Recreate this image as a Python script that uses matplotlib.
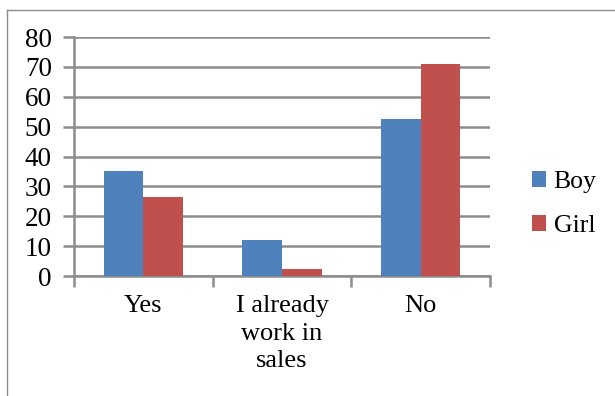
import matplotlib.pyplot as plt
import numpy as np

categories = ["Yes", "I already\nwork in\nsales", "No"]
boy = [35.2, 11.9, 52.7]
girl = [26.4, 2.3, 71.1]
series_names = ["Boy", "Girl"]
colors = ["#4f81bd", "#c0504d"]

plt.rcParams['font.family'] = ['Liberation Serif', 'DejaVu Serif']

fig = plt.figure(figsize=(6.15, 3.96), dpi=100)

# thin gray frame around the chart area
fig.add_artist(plt.Line2D([7/615, 7/615], [0, 1 - 10/396], color="#8c8c8c", lw=1))
fig.add_artist(plt.Line2D([7/615, 1], [1 - 10/396, 1 - 10/396], color="#8c8c8c", lw=1))

ax = fig.add_axes([74/615, 1 - 276/396, 416/615, 239/396])

x = np.arange(len(categories))
w = 0.2857
ax.bar(x - w/2, boy, w, color=colors[0], label=series_names[0], zorder=3)
ax.bar(x + w/2, girl, w, color=colors[1], label=series_names[1], zorder=3)

ax.set_xlim(-0.5, 2.5)
ax.set_ylim(0, 80)
ax.set_yticks(range(0, 81, 10))
ax.yaxis.grid(True, color="#8c8c8c", lw=1.8, zorder=0)
ax.tick_params(axis="y", length=8, width=1.8, color="#8c8c8c", labelsize=19.5, pad=8)

# category ticks sit on the boundaries, labels in the middle
ax.set_xticks([-0.5, 0.5, 1.5, 2.5])
ax.set_xticklabels([])
ax.set_xticks(x, minor=True)
ax.set_xticklabels(categories, minor=True, fontsize=19, linespacing=1.32, va="top")
ax.tick_params(axis="x", which="major", length=8, width=1.8, color="#8c8c8c")
ax.tick_params(axis="x", which="minor", length=0, pad=14)

for s in ["top", "right"]:
    ax.spines[s].set_visible(False)
for s in ["left", "bottom"]:
    ax.spines[s].set_color("#8c8c8c")
    ax.spines[s].set_linewidth(1.8)

fig.legend(loc="center left", bbox_to_anchor=(519/615, 1 - 204/396), frameon=False,
           fontsize=18.5, handlelength=0.55, handleheight=0.55, handletextpad=0.3,
           labelspacing=0.85, borderpad=0)

fig.savefig("out.png", dpi=100)
